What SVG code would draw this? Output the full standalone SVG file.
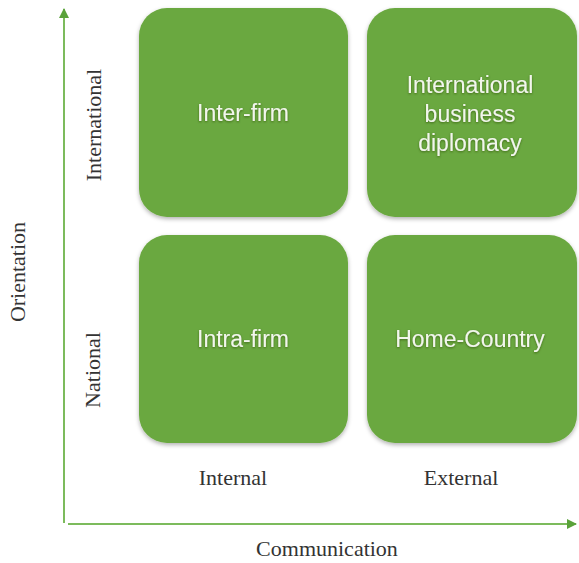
<svg xmlns="http://www.w3.org/2000/svg" width="579" height="563" viewBox="0 0 579 563">
<style>
.box{fill:#6aa83f;}
.bt{font-family:"Liberation Sans",Arial,sans-serif;font-size:23px;fill:#f2f6ec;text-anchor:middle;}
.ax{font-family:"Liberation Serif","Times New Roman",serif;font-size:22px;fill:#333;text-anchor:middle;}
.axis{stroke:#7cbb5c;stroke-width:2;fill:none;}
</style>
<defs>
<marker id="ah" viewBox="0 0 10 10" refX="9" refY="5" markerWidth="5" markerHeight="5" orient="auto"><path d="M0,0 L10,5 L0,10 Z" fill="#5aa23a"/></marker>
<filter id="sh" x="-10%" y="-10%" width="120%" height="125%"><feDropShadow dx="0" dy="2" stdDeviation="2" flood-color="#000" flood-opacity="0.3"/></filter>
<filter id="ts"><feDropShadow dx="0" dy="1" stdDeviation="0.8" flood-color="#2d4f18" flood-opacity="0.7"/></filter>
</defs>
<g id="connectors">
<line class="axis" x1="64" y1="523" x2="64" y2="9" marker-end="url(#ah)"/>
<line class="axis" x1="68" y1="524" x2="576" y2="524" marker-end="url(#ah)"/>
</g>
<g id="inter-firm"><rect class="box" x="139" y="8" width="209" height="209" rx="28" filter="url(#sh)"/><text class="bt" x="243" y="121" filter="url(#ts)">Inter-firm</text></g>
<g id="ibd"><rect class="box" x="367" y="8" width="210" height="209" rx="28" filter="url(#sh)"/><text class="bt" x="470" y="93" filter="url(#ts)">International</text><text class="bt" x="470" y="122" filter="url(#ts)">business</text><text class="bt" x="470" y="151" filter="url(#ts)">diplomacy</text></g>
<g id="intra-firm"><rect class="box" x="139" y="235" width="209" height="208" rx="28" filter="url(#sh)"/><text class="bt" x="243" y="347" filter="url(#ts)">Intra-firm</text></g>
<g id="home-country"><rect class="box" x="367" y="235" width="210" height="208" rx="28" filter="url(#sh)"/><text class="bt" x="470" y="347" filter="url(#ts)">Home-Country</text></g>
<g id="labels">
<text class="ax" transform="translate(101,125) rotate(-90)">International</text>
<text class="ax" transform="translate(100,370) rotate(-90)">National</text>
<text class="ax" transform="translate(25,272) rotate(-90)">Orientation</text>
<text class="ax" x="233" y="485">Internal</text>
<text class="ax" x="461" y="485">External</text>
<text class="ax" x="327" y="556">Communication</text>
</g>
</svg>
